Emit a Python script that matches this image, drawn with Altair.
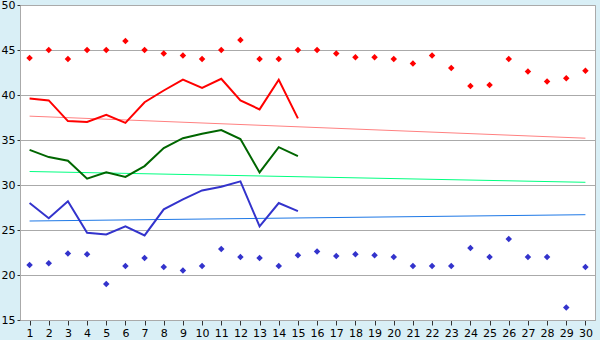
import altair as alt
import pandas as pd

days = list(range(1, 31))
hi_pts = [44.1, 45, 44, 45, 45, 46, 45, 44.6, 44.4, 44, 45, 46.1, 44, 44, 45,
          45, 44.6, 44.2, 44.2, 44, 43.5, 44.4, 43, 41, 41.1, 44, 42.6, 41.5, 41.85, 42.7]
lo_pts = [21.1, 21.3, 22.4, 22.3, 19.0, 21.0, 21.9, 20.9, 20.5, 21.0, 22.9, 22.0, 21.9, 21.0, 22.2,
          22.6, 22.1, 22.3, 22.2, 22.0, 21.0, 21.0, 21.0, 23.0, 22.0, 24.0, 22.0, 22.0, 16.4, 20.9]
line_days = list(range(1, 16))
red_line = [39.6, 39.4, 37.1, 37.0, 37.8, 36.9, 39.2, 40.5, 41.7, 40.8, 41.8, 39.4, 38.4, 41.7, 37.4]
green_line = [33.9, 33.1, 32.7, 30.7, 31.4, 30.9, 32.1, 34.1, 35.2, 35.7, 36.1, 35.1, 31.4, 34.2, 33.2]
blue_line = [28.0, 26.3, 28.2, 24.7, 24.5, 25.4, 24.4, 27.3, 28.4, 29.4, 29.8, 30.4, 25.4, 28.0, 27.1]
trend_days = [1, 30]
red_trend = [37.65, 35.2]
green_trend = [31.5, 30.3]
blue_trend = [26.0, 26.7]

xs = alt.Scale(domain=[0.5, 30.5], nice=False, zero=False)
ys = alt.Scale(domain=[15, 50], nice=False, zero=False)
X = alt.X("d:Q", scale=xs, axis=alt.Axis(values=days, title=None, grid=False, tickSize=5,
                                          labelPadding=2, labelFontSize=11, tickColor="#333333"))
Y = alt.Y("v:Q", scale=ys, axis=alt.Axis(values=list(range(15, 51, 5)), title=None, tickSize=3,
                                          labelPadding=2, labelFontSize=11, tickColor="#333333"))

def line(days_, vals, color, width):
    df = pd.DataFrame({"d": days_, "v": vals})
    return alt.Chart(df).mark_line(color=color, strokeWidth=width, interpolate="linear").encode(x=X, y=Y)

def pts(vals, color):
    df = pd.DataFrame({"d": days, "v": vals})
    return alt.Chart(df).mark_point(shape="diamond", filled=True, color=color, size=42, opacity=1).encode(x=X, y=Y)

chart = alt.layer(
    line(trend_days, red_trend, "#ff8080", 1),
    line(trend_days, green_trend, "#00ff80", 1),
    line(trend_days, blue_trend, "#1e78e6", 1),
    line(line_days, red_line, "#ff0000", 2),
    line(line_days, green_line, "#006600", 2),
    line(line_days, blue_line, "#3333cc", 2),
    pts(hi_pts, "#ff0000"),
    pts(lo_pts, "#3333cc"),
).properties(
    width=575, height=315,
    autosize=alt.AutoSizeParams(type="none"),
    padding={"left": 20, "top": 5, "right": 5, "bottom": 20},
).configure(
    background="#d9eff6",
).configure_view(
    fill="white", stroke="#aaaaaa", strokeWidth=1,
).configure_axis(
    gridColor="#aaaaaa", gridWidth=1, gridOpacity=1, domainColor="#aaaaaa",
    labelColor="#000000", labelFont="DejaVu Sans",
)

chart.save("out.html", embed_options={"renderer": "svg", "actions": False})
